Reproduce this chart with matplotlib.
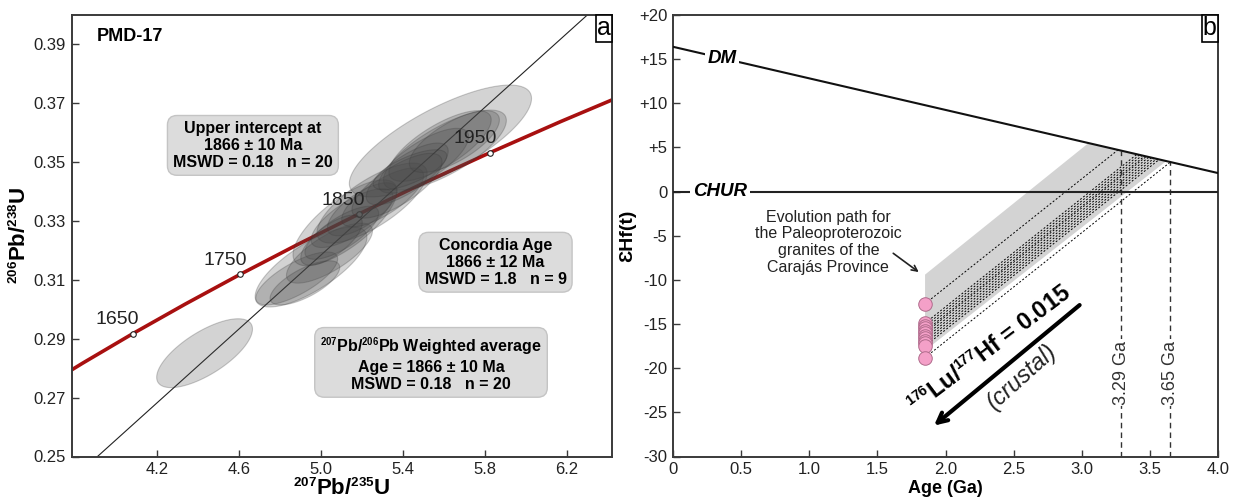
import numpy as np
import matplotlib
matplotlib.use('Agg')
import matplotlib.pyplot as plt
import matplotlib._mathtext as mt
from matplotlib.patches import Polygon
from matplotlib.offsetbox import AnchoredText

plt.rcParams['font.family'] = ['Liberation Sans', 'DejaVu Sans']
plt.rcParams['mathtext.fontset'] = 'custom'
plt.rcParams['mathtext.rm'] = 'Liberation Sans'
plt.rcParams['mathtext.default'] = 'regular'
mt.SHRINK_FACTOR = 0.6   # smaller isotope superscripts

# ---- panel a: concordia (age Ma, 207Pb/235U, 206Pb/238U)
conc_age = [1550, 1600, 1650, 1700, 1750, 1800, 1850, 1900, 1950, 2000, 2050]
conc_x = [3.6021, 3.8344, 4.0784, 4.3348, 4.6040, 4.8869, 5.1840, 5.4962, 5.8240, 6.1686, 6.5304]
conc_y = [0.27181, 0.28171, 0.29170, 0.30175, 0.31189, 0.32211, 0.33240, 0.34278, 0.35323, 0.36377, 0.37439]
tick_ages = [1650, 1750, 1850, 1950]

disc_x = [3.907, 6.36]
disc_y = [0.25, 0.4038]

# ellipses: centre x, centre y, half range x, half range y, correlation
ell_x = [4.43, 4.95, 5.04, 4.88, 4.92, 5.116, 5.248, 5.15, 5.20, 5.10, 5.30, 5.05,
         5.582, 5.604, 5.58, 5.50, 5.42, 5.65, 5.37, 5.433]
ell_y = [0.2851, 0.3144, 0.3191, 0.3105, 0.3090, 0.3294, 0.3361, 0.3310, 0.3340, 0.3260,
         0.3380, 0.3235, 0.3572, 0.3541, 0.3555, 0.3505, 0.3460, 0.3570, 0.3420, 0.3474]
ell_hx = [0.234, 0.273, 0.21, 0.20, 0.17, 0.254, 0.269, 0.20, 0.17, 0.18, 0.20, 0.15,
          0.445, 0.30, 0.25, 0.22, 0.20, 0.22, 0.22, 0.18]
ell_hy = [0.0117, 0.0136, 0.0102, 0.0090, 0.0075, 0.0146, 0.0136, 0.0100, 0.0090, 0.0090,
          0.0100, 0.0085, 0.0190, 0.0136, 0.0120, 0.0110, 0.0105, 0.0105, 0.0110, 0.0068]
ell_rho = [0.70, 0.74, 0.74, 0.74, 0.70, 0.74, 0.74, 0.74, 0.70, 0.74,
           0.74, 0.70, 0.76, 0.74, 0.74, 0.74, 0.74, 0.70, 0.74, 0.70]

# ---- panel b: Hf evolution
dm_age = [0.0, 4.0]
dm_eps = [16.4, 2.1]
chur_age = [0.0, 4.0]
chur_eps = [0.0, 0.0]
hf_age = 1.85
hf_eps = [-12.7, -14.9, -15.2, -15.5, -15.8, -16.0, -16.3, -16.6, -16.9, -17.2, -17.5, -18.8]
crust_slope = 12.3   # eps units per Ga for 176Lu/177Hf = 0.015
band_x = [1.85, 3.05, 3.62, 1.85]
band_y = [-9.4, 5.5, 3.45, -18.0]
tdm_ages = [3.29, 3.65]

fig = plt.figure(figsize=(12.35, 5), dpi=100)
ax1 = fig.add_axes([71.5 / 1235, 0.087, 540.5 / 1235, 0.883])
ax2 = fig.add_axes([673 / 1235, 0.087, 545 / 1235, 0.883])

for ax in (ax1, ax2):
    for s in ax.spines.values():
        s.set_color('#3a3a3a')
        s.set_linewidth(1.4)
    ax.tick_params(direction='in', length=5, width=1, labelsize=12,
                   colors='#3a3a3a', labelcolor='#222222', pad=4)

# ---- panel a
ax1.plot(conc_x, conc_y, color='#a81010', lw=2.6, zorder=1)
ax1.plot(disc_x, disc_y, color='#222222', lw=0.8, zorder=1)

t = np.linspace(0, 2 * np.pi, 120)
for cx, cy, hx, hy, r in zip(ell_x, ell_y, ell_hx, ell_hy, ell_rho):
    px = cx + hx * np.cos(t)
    py = cy + hy * (r * np.cos(t) + np.sqrt(1 - r * r) * np.sin(t))
    ax1.add_patch(Polygon(np.column_stack([px, py]), closed=True,
                          facecolor=(0.28, 0.28, 0.28, 0.24),
                          edgecolor=(0.2, 0.2, 0.2, 0.25), lw=0.8, zorder=2))

for a in tick_ages:
    i = conc_age.index(a)
    ax1.plot(conc_x[i], conc_y[i], 'o', ms=4, mfc='white', mec='#222222', mew=0.8, zorder=1.5)
    ax1.annotate(str(a), (conc_x[i], conc_y[i]), xytext=(-11, 10), textcoords='offset points',
                 ha='center', va='center', fontsize=14, color='#222222', zorder=3)

box = dict(boxstyle='round,pad=0.35,rounding_size=0.6', fc='#dcdcdc', ec='#c4c4c4', lw=1)
ax1.text(4.666, 0.3557, 'Upper intercept at\n1866 ± 10 Ma\nMSWD = 0.18   n = 20',
         ha='center', va='center', fontsize=11.5, fontweight='bold', bbox=box, zorder=4,
         linespacing=1.15)
ax1.text(5.851, 0.3160, 'Concordia Age\n1866 ± 12 Ma\nMSWD = 1.8   n = 9',
         ha='center', va='center', fontsize=11.5, fontweight='bold', bbox=box, zorder=4,
         linespacing=1.15)
ax1.text(5.536, 0.2815, '$^{207}$Pb/$^{206}$Pb Weighted average\nAge = 1866 ± 10 Ma\nMSWD = 0.18   n = 20',
         ha='center', va='center', fontsize=11.5, fontweight='bold', bbox=box, zorder=4,
         linespacing=1.15)
ax1.text(0.047, 0.952, 'PMD-17', transform=ax1.transAxes, ha='left', va='center',
         fontsize=13, fontweight='bold')

ax1.set_xlim(3.78, 6.42)
ax1.set_ylim(0.25, 0.40)
ax1.set_xticks([4.2, 4.6, 5.0, 5.4, 5.8, 6.2])
ax1.set_xticklabels(['4.2', '4.6', '5.0', '5.4', '5.8', '6.2'])
ax1.set_yticks([0.25, 0.27, 0.29, 0.31, 0.33, 0.35, 0.37, 0.39])
ax1.set_yticklabels(['0.25', '0.27', '0.29', '0.31', '0.33', '0.35', '0.37', '0.39'])
ax1.set_xlabel('$^{207}$Pb/$^{235}$U', fontsize=16, fontweight='bold', labelpad=1)
ax1.set_ylabel('$^{206}$Pb/$^{238}$U', fontsize=16, fontweight='bold', labelpad=2)
at = AnchoredText('a', loc='upper right', prop=dict(size=18), pad=0.05, borderpad=0, frameon=True)
at.patch.set_linewidth(1.2)
at.zorder = 5
ax1.add_artist(at)

# ---- panel b
ax2.add_patch(Polygon(np.column_stack([band_x, band_y]), closed=True,
                      facecolor='#d3d3d3', edgecolor='none', zorder=1))
dm_slope = (dm_eps[0] - dm_eps[1]) / (dm_age[1] - dm_age[0])
for e in hf_eps:
    # follow the crustal slope up to the DM line
    end_x = (dm_eps[0] - e + crust_slope * hf_age) / (crust_slope + dm_slope)
    end_y = np.interp(end_x, dm_age, dm_eps)
    ax2.plot([hf_age, end_x], [e, end_y], color='black', lw=0.7,
             linestyle=(0, (2, 2)), zorder=2)

ax2.plot(dm_age, dm_eps, color='#111111', lw=1.5, zorder=3)
ax2.plot(chur_age, chur_eps, color='#222222', lw=1.5, zorder=3)
for tdm in tdm_ages:
    ax2.plot([tdm, tdm], [-30, np.interp(tdm, dm_age, dm_eps)], color='#333333', lw=1,
             linestyle=(0, (4, 3)), zorder=2)
    ax2.text(tdm, -20.5, f'{tdm:.2f} Ga', rotation=90, ha='center', va='center', fontsize=13,
             color='#333333', bbox=dict(boxstyle='square,pad=0.1', fc='white', ec='none'), zorder=4)

ax2.scatter([hf_age] * len(hf_eps), hf_eps, s=95, facecolor='#f4a0c8', edgecolor='#b06b8c',
            lw=0.7, zorder=5)

ax2.text(0.36, 15.1, 'DM', fontsize=13.5, fontweight='bold', style='italic', ha='center', va='center',
         bbox=dict(boxstyle='square,pad=0.15', fc='white', ec='none'), zorder=4)
ax2.text(0.345, 0.0, 'CHUR', fontsize=13.5, fontweight='bold', style='italic', ha='center', va='center',
         bbox=dict(boxstyle='square,pad=0.15', fc='white', ec='none'), zorder=4)

ax2.text(1.14, -5.74, 'Evolution path for\nthe Paleoproterozoic\ngranites of the\nCarajás Province',
         ha='center', va='center', fontsize=11.5, color='#222222', linespacing=1.15)
ax2.annotate('', xy=(1.82, -9.3), xytext=(1.6, -6.8),
             arrowprops=dict(arrowstyle='->', lw=1.2, color='#222222'))

ax2.annotate('', xy=(1.9, -26.7), xytext=(3.0, -12.65),
             arrowprops=dict(arrowstyle='->,head_length=0.7,head_width=0.35', lw=3, color='black'))
ax2.text(2.33, -17.9, '$^{176}$Lu/$^{177}$Hf = 0.015', rotation=37, rotation_mode='anchor',
         ha='center', va='center', fontsize=17, fontweight='bold')
ax2.text(2.56, -21.0, '(crustal)', rotation=42, rotation_mode='anchor', ha='center', va='center',
         fontsize=17, style='italic', color='#222222')

ax2.set_xlim(0, 4)
ax2.set_ylim(-30, 20)
ax2.set_xticks([0, 0.5, 1.0, 1.5, 2.0, 2.5, 3.0, 3.5, 4.0])
ax2.set_xticklabels(['0', '0.5', '1.0', '1.5', '2.0', '2.5', '3.0', '3.5', '4.0'])
ax2.set_yticks([20, 15, 10, 5, 0, -5, -10, -15, -20, -25, -30])
ax2.set_yticklabels(['+20', '+15', '+10', '+5', '0', '-5', '-10', '-15', '-20', '-25', '-30'])
ax2.set_xlabel('Age (Ga)', fontsize=13, fontweight='bold', labelpad=2)
ax2.set_ylabel('ƐHf(t)', fontsize=14, fontweight='bold', labelpad=2)
bt = AnchoredText('b', loc='upper right', prop=dict(size=18), pad=0.05, borderpad=0, frameon=True)
bt.patch.set_linewidth(1.2)
bt.zorder = 5
ax2.add_artist(bt)

fig.savefig('out.png', dpi=100)
